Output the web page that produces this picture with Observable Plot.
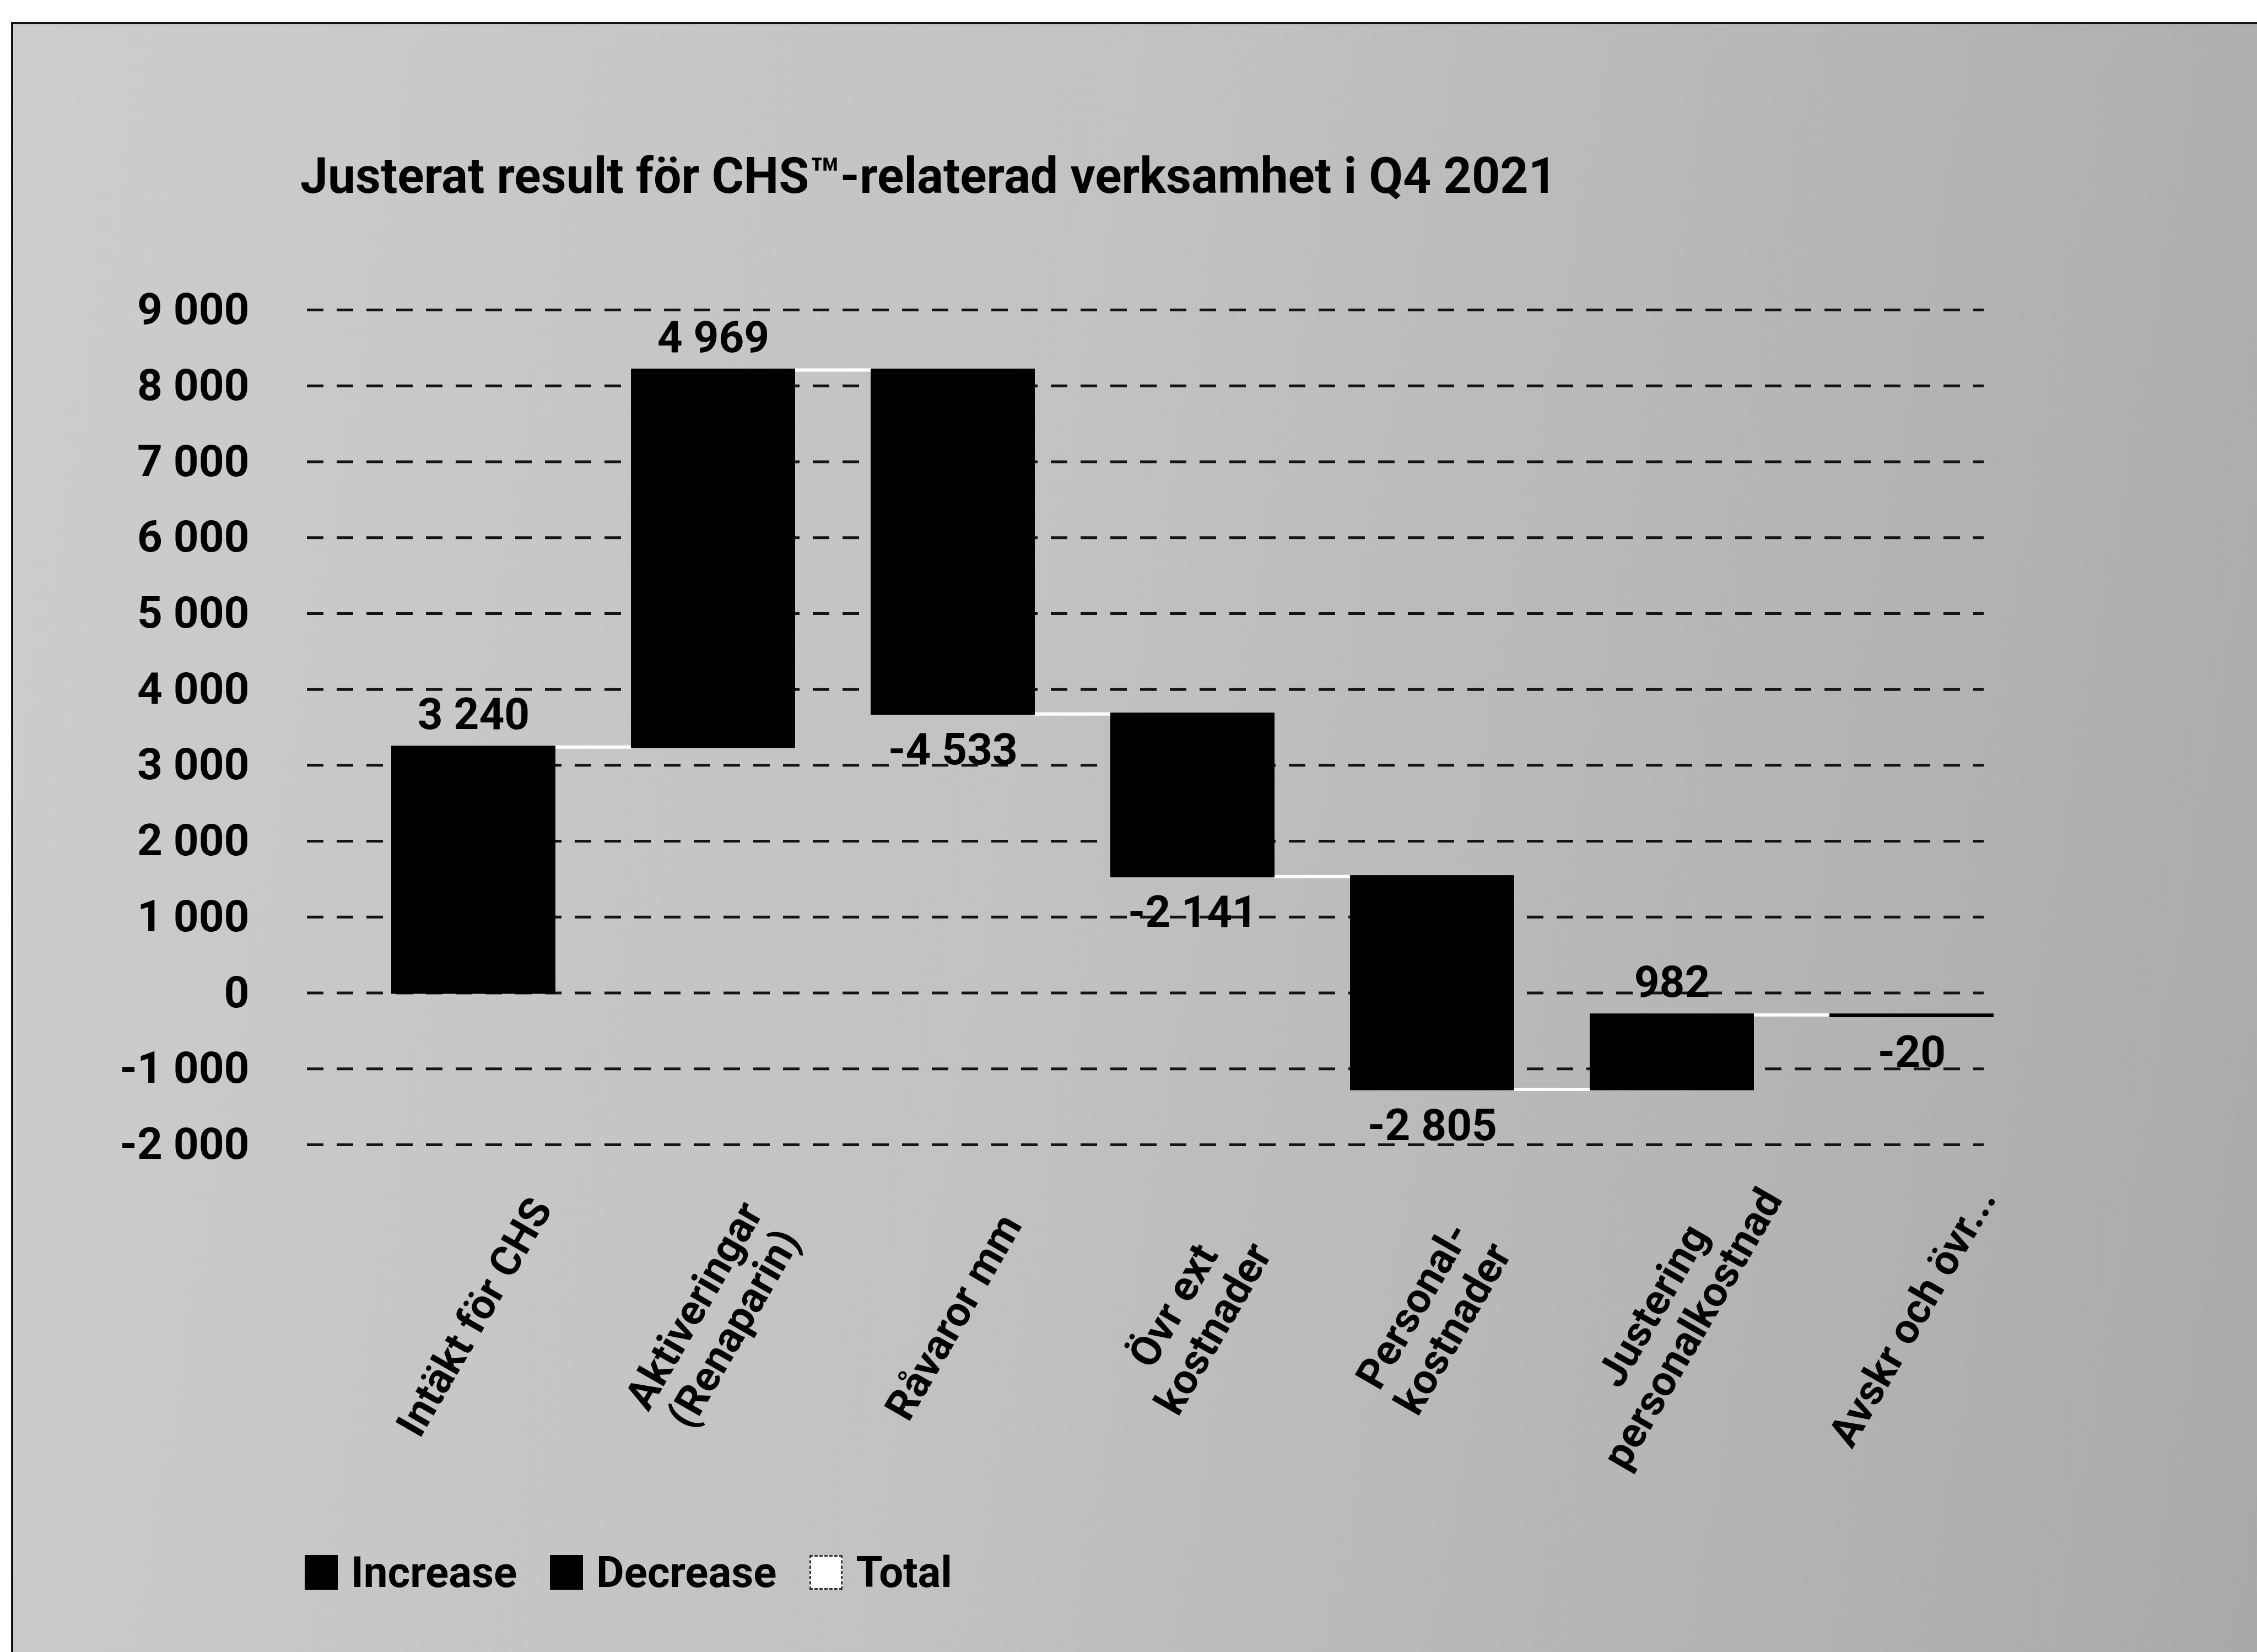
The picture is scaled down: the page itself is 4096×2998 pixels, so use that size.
<!DOCTYPE html>
<html>
<head>
<meta charset="utf-8">
<script src="https://cdn.jsdelivr.net/npm/d3@7"></script>
<script src="https://cdn.jsdelivr.net/npm/@observablehq/plot@0.6"></script>
<style>
  html, body { margin: 0; padding: 0; background: #fff; }
  body { width: 4096px; height: 2998px; position: relative; overflow: hidden; font-family: Roboto, "Open Sans", sans-serif; }
  #panel { position: absolute; left: 20px; top: 40px; right: 0; bottom: 0;
           border-left: 4px solid #111; border-top: 4px solid #111;
           background: linear-gradient(100deg, #cdcdcd 0%, #c2c2c2 45%, #b3b3b3 80%, #a9a9a9 100%); }
  #title { position: absolute; left: 0; top: 0; }
  #chart { position: absolute; left: 0; top: 400px; width: 4096px; }
  #legend { position: absolute; left: 553px; top: 2822px; height: 63px; display: flex; align-items: center;
            font-size: 78px; font-weight: 700; line-height: 63px; color: #000; }
  .item { display: flex; align-items: center; margin-right: 60px; }
  .sw { width: 60px; height: 63px; margin-right: 24px; box-sizing: border-box; }
</style>
</head>
<body>
<div id="panel"></div>
<svg id="title" width="4096" height="400"></svg>
<div id="chart"></div>
<div id="legend"></div>
<script>
// ---- data ----
const title = "Justerat result för CHS™-relaterad verksamhet i Q4 2021";
const categories = ["Intäkt för CHS", "Aktiveringar (Renaparin)", "Råvaror mm", "Övr ext kostnader",
                    "Personalkostnader", "Justering personalkostnad", "Avskr och övr..."];
const categoryLabels = ["Intäkt för CHS", "Aktiveringar\n(Renaparin)", "Råvaror mm", "Övr ext\nkostnader",
                        "Personal-\nkostnader", "Justering\npersonalkostnad", "Avskr och övr..."];
const changes = [3240, 4969, -4533, -2141, -2805, 982, -20];
const yTicks = [-2000, -1000, 0, 1000, 2000, 3000, 4000, 5000, 6000, 7000, 8000, 9000];
const legendLabels = ["Increase", "Decrease", "Total"];

// ---- helpers ----
const fmt = n => (n < 0 ? "-" : "") + String(Math.abs(n)).replace(/\B(?=(\d{3})+(?!\d))/g, "\u00a0");

let cum = 0;
const rows = categories.map((cat, i) => {
  const start = cum; cum += changes[i];
  return {cat, start, end: cum, value: changes[i], kind: changes[i] >= 0 ? "Increase" : "Decrease"};
});
const connectors = rows.slice(0, -1).map((r, i) => ({from: r.cat, to: rows[i + 1].cat, level: r.end}));

// ---- title ----
d3.select("#title").append("text")
  .attr("x", 545).attr("y", 350)
  .attr("font-family", "Roboto, 'Open Sans', sans-serif")
  .attr("font-size", 90).attr("font-weight", 700).attr("fill", "#000")
  .attr("textLength", 2280).attr("lengthAdjust", "spacingAndGlyphs")
  .text(title);

// ---- chart ----
const W = 4096, H = 2300;
const mL = 557, mR = 4096 - 3600, mT = 162, mB = H - 1677;
const xRange = [569, 3759], pad = 0.323;
const step = (xRange[1] - xRange[0]) / (categories.length - pad + 2 * pad);
const bw = step * (1 - pad);
const fs = 80;

const chart = Plot.plot({
  width: W, height: H,
  marginLeft: mL, marginRight: mR, marginTop: mT, marginBottom: mB,
  style: {background: "transparent", fontFamily: "Roboto, 'Open Sans', sans-serif", overflow: "visible"},
  x: {type: "band", domain: categories, range: xRange, padding: pad, axis: null},
  y: {domain: [-2000, 9000], axis: null},
  marks: [
    Plot.ruleY(yTicks, {stroke: "#141414", strokeWidth: 5, strokeDasharray: "30 24"}),
    Plot.ruleY(connectors, {y: "level", x1: "from", x2: "to", stroke: "#fff", strokeWidth: 6, insetLeft: bw, insetRight: bw}),
    Plot.rectY(rows, {x: "cat", y1: "start", y2: "end", fill: d => d.kind === "Total" ? "#fff" : "#000", stroke: "#000", strokeWidth: 4}),
    Plot.text(yTicks, {y: d => d, text: d => fmt(d), frameAnchor: "left", dx: -105, textAnchor: "end",
                       fontSize: fs, fontWeight: 700, fill: "#000"}),
    Plot.text(rows.filter(d => d.value >= 0), {x: "cat", y: "end", text: d => fmt(d.value), dy: -58,
                       fontSize: fs, fontWeight: 700, fill: "#000"}),
    Plot.text(rows.filter(d => d.value < 0), {x: "cat", y: "end", text: d => fmt(d.value), dy: 66,
                       fontSize: fs, fontWeight: 700, fill: "#000"}),
    Plot.text(categories, {x: d => d, text: (d, i) => categoryLabels[i], frameAnchor: "bottom", dy: 312,
                       rotate: -60, textAnchor: "middle", lineAnchor: "middle", lineHeight: 1.1,
                       fontSize: 76, fontWeight: 700, fill: "#000"})
  ]
});
document.getElementById("chart").appendChild(chart);

// ---- legend ----
const legendFill = {Increase: "#000", Decrease: "#000", Total: "#fff"};
const lg = d3.select("#legend");
legendLabels.forEach(l => {
  const it = lg.append("div").attr("class", "item");
  it.append("div").attr("class", "sw")
    .style("background", legendFill[l])
    .style("border", l === "Total" ? "3px dashed #333" : "none");
  it.append("span").text(l);
});
</script>
</body>
</html>
